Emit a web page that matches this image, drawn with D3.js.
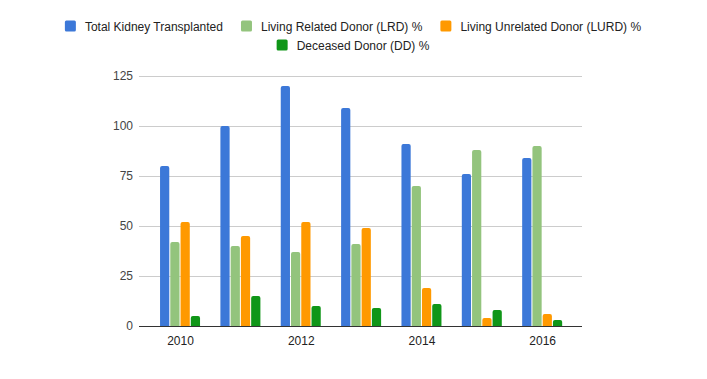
<!DOCTYPE html>
<html><head><meta charset="utf-8">
<script src="https://cdn.jsdelivr.net/npm/d3@7"></script>
<style>body{margin:0;background:#fff}svg{display:block;font-family:"Liberation Sans",Arial,sans-serif}</style>
</head><body>
<svg id="chart" width="707" height="379"></svg>
<script>
const years = [2010, 2011, 2012, 2013, 2014, 2015, 2016];
const seriesNames = ["Total Kidney Transplanted", "Living Related Donor (LRD) %", "Living Unrelated Donor (LURD) %", "Deceased Donor (DD) %"];
const totalTransplanted = [80, 100, 120, 109, 91, 76, 84];
const lrdPct = [42, 40, 37, 41, 70, 88, 90];
const lurdPct = [52, 45, 52, 49, 19, 4, 6];
const ddPct = [5, 15, 10, 9, 11, 8, 3];
const yTicks = [0, 25, 50, 75, 100, 125];
const xTicks = [2010, 2012, 2014, 2016];
const colors = ["#3c78d8", "#93c47d", "#ff9900", "#109618"];

const seriesValues = [totalTransplanted, lrdPct, lurdPct, ddPct];
const svg = d3.select("#chart");

const x = d3.scaleLinear().domain([2009.32, 2016.66]).range([139, 582]);
const xs = d3.scaleBand().domain(d3.range(4)).range([-20, 20]).paddingInner(0.1);
const y = d3.scaleLinear().domain([0, 125]).range([326, 76]);

// gridlines
svg.append("g").selectAll("line").data(yTicks.filter(d => d > 0)).join("line")
  .attr("x1", 139).attr("x2", 582)
  .attr("y1", d => Math.round(y(d)) + 0.5).attr("y2", d => Math.round(y(d)) + 0.5)
  .attr("stroke", "#cccccc");

// y labels
const yAxis = d3.axisLeft(y).tickValues(yTicks).tickSize(0).tickPadding(6);
const gy = svg.append("g").attr("transform", "translate(139,0)").call(yAxis);
gy.select(".domain").remove();
gy.selectAll("text").attr("font-size", 12).attr("fill", "#444").attr("font-family", "Liberation Sans, Arial, sans-serif");

// bars
const rows = [];
years.forEach((yr, i) => seriesValues.forEach((vals, s) => rows.push({yr, s, v: vals[i]})));
function barPath(d) {
  const x0 = x(d.yr) + xs(d.s), w = xs.bandwidth();
  const y0 = y(d.v), yb = y(0), r = Math.min(2, w / 2, yb - y0);
  return `M${x0},${yb}V${y0 + r}Q${x0},${y0} ${x0 + r},${y0}H${x0 + w - r}Q${x0 + w},${y0} ${x0 + w},${y0 + r}V${yb}Z`;
}
svg.append("g").selectAll("path").data(rows).join("path")
  .attr("d", barPath).attr("fill", d => colors[d.s]);

// x axis
const xAxis = d3.axisBottom(x).tickValues(xTicks).tickFormat(d3.format("d")).tickSize(0).tickPadding(10);
const gx = svg.append("g").attr("transform", "translate(0,326)").call(xAxis);
gx.select(".domain").remove();
gx.selectAll("text").attr("font-size", 12).attr("fill", "#222").attr("font-family", "Liberation Sans, Arial, sans-serif");
svg.append("line").attr("x1", 139).attr("x2", 582).attr("y1", 326.5).attr("y2", 326.5).attr("stroke", "#333");

// legend
const legendRows = [[0, 1, 2], [3]];
const rowY = [26, 45];
legendRows.forEach((row, ri) => {
  const g = svg.append("g");
  let cx = 0;
  row.forEach((s, k) => {
    const item = g.append("g").attr("transform", `translate(${cx},0)`);
    item.append("rect").attr("x", 0).attr("y", rowY[ri] - 5.5).attr("width", 11).attr("height", 11).attr("rx", 1.5).attr("fill", colors[s]);
    const t = item.append("text").attr("x", 20).attr("y", rowY[ri] + 4.5).attr("font-size", 12).attr("fill", "#222").text(seriesNames[s]);
    const w = 20 + t.node().getComputedTextLength();
    cx += w + (k < row.length - 1 ? 18 : 0);
  });
  g.attr("transform", `translate(${353 - cx / 2},0)`);
});
</script>
</body></html>
